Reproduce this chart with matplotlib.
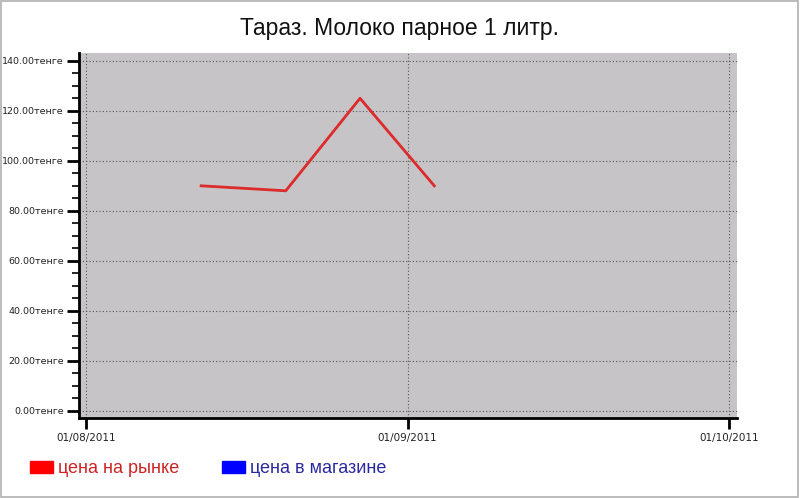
import numpy as np
import pandas as pd
import matplotlib
matplotlib.use('Agg')
import matplotlib.pyplot as plt
from matplotlib.patches import Rectangle
from matplotlib.ticker import MultipleLocator, FuncFormatter

plt.rcParams['font.family'] = ['DejaVu Sans']

# данные
dates = pd.to_datetime(['2011-08-12 02:00', '2011-08-20 06:00',
                        '2011-08-27 10:00', '2011-09-03 12:00'])
market_price = [90, 88, 125, 90]
store_price = []  # нет данных
x_ticks = pd.to_datetime(['2011-08-01', '2011-09-01', '2011-10-01'])


# на исходном графике месяцы одинаковой ширины
def month_pos(d):
    d = pd.DatetimeIndex(d)
    day = d.day - 1 + d.hour / 24
    return (d.year * 12 + d.month - 1) + day / d.days_in_month


fig = plt.figure(figsize=(8, 4.98), dpi=100)
ax = fig.add_axes([0.099, 0.161, 0.822, 0.733])
ax.set_facecolor('#c6c4c7')

ax.plot(month_pos(dates), market_price, color='#dd2a2a', lw=2)

t = month_pos(x_ticks)
ax.set_xlim(t[0] - 0.022, t[-1] + 0.025)
ax.set_ylim(-2.8, 143.2)
ax.set_xticks(t)
ax.set_xticklabels(x_ticks.strftime('%d/%m/%Y'))
ax.yaxis.set_major_locator(MultipleLocator(20))
ax.yaxis.set_minor_locator(MultipleLocator(5))
ax.yaxis.set_major_formatter(FuncFormatter(lambda v, p: f'{v:.2f}тенге'))

ax.grid(True, which='major', color='#555555', linestyle=(0, (1, 2)), lw=0.8)
for side in ['top', 'right']:
    ax.spines[side].set_visible(False)
ax.spines['left'].set_linewidth(2)
ax.spines['bottom'].set_linewidth(2)
ax.tick_params(axis='y', which='major', length=9, width=2, labelsize=6.8, pad=2,
               labelcolor='#222222')
ax.tick_params(axis='y', which='minor', length=5, width=1.2)
ax.tick_params(axis='x', which='major', length=8, width=2, labelsize=7.5, pad=3,
               labelcolor='#222222')

fig.text(0.5, 1 - 28 / 498, 'Тараз. Молоко парное 1 литр.', ha='center', va='center',
         fontsize=16.5, family='Liberation Sans', color='#111111')

# легенда
fig.patches.append(Rectangle((30 / 800, 1 - 473 / 498), 23 / 800, 12 / 498,
                             transform=fig.transFigure, color='#ff0000'))
fig.text(58 / 800, 1 - 468 / 498, 'цена на рынке', color='#cc2424', fontsize=13,
         va='center', family='Liberation Sans')
fig.patches.append(Rectangle((222 / 800, 1 - 473 / 498), 23 / 800, 12 / 498,
                             transform=fig.transFigure, color='#0000ff'))
fig.text(250 / 800, 1 - 468 / 498, 'цена в магазине', color='#2a2aa0', fontsize=13,
         va='center', family='Liberation Sans')

# рамка
fig.patches.append(Rectangle((0.001, 0.002), 0.997, 0.996, transform=fig.transFigure,
                             fill=False, edgecolor='#b0b0b0', lw=1.2))

fig.savefig('out.png', dpi=100)
